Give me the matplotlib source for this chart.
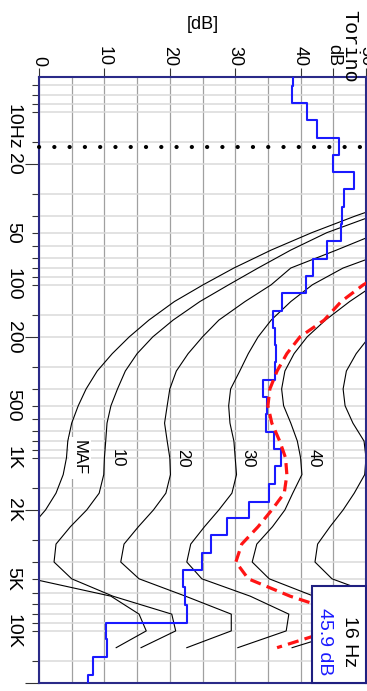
import numpy as np
import matplotlib
matplotlib.use("Agg")
import matplotlib.pyplot as plt
from matplotlib import transforms
from matplotlib.patches import Rectangle

plt.rcParams['font.family'] = ['Liberation Sans', 'DejaVu Sans']
plt.rcParams['lines.scale_dashes'] = False

# measured 1/3 octave spectrum (blue steps)
band_freqs = [6.3, 8, 10, 12.5, 16, 20, 25, 31.5, 40, 50, 63, 80, 100, 125, 160, 200, 250, 315,
              400, 500, 630, 800, 1000, 1250, 1600, 2000, 2500, 3150, 4000, 5000, 6300, 8000,
              10000, 12500, 16000, 20000]
spectrum_db = [38.8, 38.7, 41.0, 42.5, 45.9, 45.0, 48.2, 46.6, 46.4, 46.2, 44.0, 41.9, 40.8, 37.2,
               35.8, 36.1, 36.3, 36.1, 34.2, 34.9, 34.7, 36.0, 37.0, 36.1, 35.2, 32.1, 28.8, 26.3,
               24.9, 22.0, 22.3, 22.6, 10.3, 10.4, 8.3, 7.5]

# equal loudness contours
contour_freqs = [20, 25, 31.5, 40, 50, 63, 80, 100, 125, 160, 200, 250, 315, 400, 500, 630, 800,
                 1000, 1250, 1600, 2000, 2500, 3150, 4000, 5000, 6300, 8000, 10000, 12500]
maf = [74.3, 65.0, 56.3, 48.4, 41.7, 35.5, 29.8, 25.1, 20.7, 16.8, 13.8, 11.2, 8.9, 7.2, 6.0, 5.0,
       4.4, 4.2, 3.7, 2.6, 1.0, -1.2, -3.6, -3.9, -1.1, 11.0, 15.3, 16.4, 11.8]
phon10 = [72, 65, 58, 51, 44, 38.5, 33.5, 29.0, 24.6, 20.5, 17.4, 15.0, 13.2, 12.0, 11.0, 10.4,
          10.2, 10.0, 9.9, 9.2, 7.3, 4.8, 2.6, 2.3, 5.0, 11.3, 20.3, 20.9, 15.6]
phon20 = [78, 72, 66, 60, 52, 45.5, 38.5, 35.5, 31.5, 27.5, 25, 22.8, 21, 20, 19.6, 19.2, 19.6,
          20, 20.1, 19.4, 17.5, 15.2, 13.0, 12.5, 15.3, 22.4, 29.4, 29.4, 22.6]
phon30 = [85, 79, 73, 67, 60, 54, 46.5, 41.8, 38.5, 35.5, 33.5, 32, 30.7, 29.3, 29.0, 29.2, 29.8,
          30, 30.2, 29.5, 27.5, 25.3, 23.2, 22.6, 24.9, 32.3, 38.2, 37.8, 30.4]
phon40 = [92, 86, 80, 74, 68, 62, 56, 51.3, 47.5, 43.8, 41, 39, 37.6, 37.1, 37.4, 38.5, 39.5,
          40, 40.2, 38.8, 37.6, 35.7, 33.3, 32.6, 35.2, 42.0, 47.5, 47.0, 38.7]
phon50 = [99, 93, 87, 81, 76, 70, 64.5, 60, 56.5, 52.8, 50.5, 48.5, 47, 46.5, 46.8, 48, 49.7,
          50, 49.8, 48.2, 46.5, 44.5, 42.6, 42.2, 44.8, 52, 57, 57, 48]
contours = [("MAF", maf), ("10", phon10), ("20", phon20), ("30", phon30), ("40", phon40), ("", phon50)]

# red dashed curve
red_freqs = [80, 100, 125, 160, 200, 250, 315, 400, 500, 630, 800, 1000, 1250, 1600, 2000, 2500,
             3150, 4000, 5000, 6300, 8000, 10000, 12500]
red_db = [54, 49.6, 46.2, 43.6, 39.9, 37.9, 36.4, 35.3, 35.0, 35.6, 36.8, 37.7, 37.9, 37.5, 35.6,
          33.5, 31.0, 30.1, 32.0, 38.4, 46.8, 44.5, 36.4]

cursor_freq = 16

freq_major = [20, 200, 2000, 20000]
freq_minor = [7, 8, 9, 10, 15, 30, 40, 50, 60, 70, 80, 90, 100, 150, 300, 400, 500, 600, 700,
              800, 900, 1000, 1500, 3000, 4000, 5000, 6000, 7000, 8000, 9000, 10000, 15000]
freq_labels = [(20, "20"), (50, "50"), (100, "100"), (200, "200"), (500, "500"), (1000, "1K"),
               (2000, "2K"), (5000, "5K"), (10000, "10K")]
db_ticks = [0, 10, 20, 30, 40, 45, 50]
db_labels = ["0", "10", "20", "30", "40", "dB", "50"]

fig = plt.figure(figsize=(3.67, 6.91), dpi=100)
ax = fig.add_axes([39 / 367, 8 / 691, 327 / 367, 606 / 691])

ax.set_yscale('log')
ax.set_ylim(20000, 6.3)
ax.set_xlim(0, 50)

# contours
for name, vals in contours:
    ax.plot(vals, contour_freqs, color='black', lw=0.8, zorder=2)
    if name:
        v1k = vals[contour_freqs.index(1000)]
        kw = dict(bbox=dict(facecolor='white', edgecolor='none', pad=2.5)) if name == "MAF" else {}
        ax.text(v1k + 2, 1000, name, rotation=-90, ha='center', va='center', fontsize=12,
                zorder=6, **kw)

# blue steps
f = np.array(band_freqs)
edges = np.concatenate([[f[0] * 2 ** (-1 / 6)], np.sqrt(f[:-1] * f[1:]), [f[-1] * 2 ** (1 / 6)]])
step_y = np.column_stack([edges[:-1], edges[1:]]).ravel()
step_x = np.repeat(spectrum_db, 2)
ax.plot(step_x, step_y, color='#1a1aff', lw=1.5, zorder=3)

# red dashed
ax.plot(red_db, red_freqs, color='#ff1414', lw=2.3, dashes=(8, 4.5), zorder=4)

# cursor
ax.plot([0, 50], [cursor_freq, cursor_freq], color='black', lw=3, dashes=(0.1, 10.9),
        dash_capstyle='round', zorder=5, clip_on=False)

# axes styling
ax.xaxis.tick_top()
ax.set_xticks(db_ticks, db_labels)
ax.set_xticks([5, 15, 25, 35], minor=True)
ax.tick_params(axis='x', which='major', length=6.5, width=0.8, color='#333333', pad=1,
               labelsize=13, labelrotation=-90)
ax.tick_params(axis='x', which='minor', length=0)
ax.set_yticks(freq_major)
ax.set_yticks(freq_minor, minor=True)
ax.yaxis.set_major_formatter(plt.NullFormatter())
ax.yaxis.set_minor_formatter(plt.NullFormatter())
ax.tick_params(axis='y', which='major', length=10, width=0.8, color='#333333')
ax.tick_params(axis='y', which='minor', length=5, width=0.8, color='#333333')
ax.set_axisbelow(True)
ax.grid(True, axis='y', which='both', color='#dadada', lw=1.1)
ax.grid(True, axis='x', which='both', color='#a0a0a0', lw=0.9)
for s in ax.spines.values():
    s.set_color('#2a2a88')
    s.set_linewidth(1.5)

ax.xaxis.set_label_position('top')
ax.set_xlabel('[dB]', fontsize=13, labelpad=11)

# frequency labels on the left
blend = transforms.blended_transform_factory(fig.transFigure, ax.transData)
for fr, lab in freq_labels:
    ax.text(13 / 367, fr, lab, transform=blend, rotation=-90, ha='center', va='center',
            fontsize=14, clip_on=False)
ax.text(13 / 367, 10, "10Hz", transform=transforms.offset_copy(blend, fig=fig, y=8, units='dots'),
        rotation=-90, rotation_mode='anchor', ha='left', va='center', fontsize=14, clip_on=False)

fig.text(350 / 367, 1 - 46 / 691, "Torino", rotation=-90, ha='center', va='center',
         family='Liberation Mono', fontsize=14.5)

# readout box
ax.add_patch(Rectangle((0.835, 0.0), 0.165, 0.16, transform=ax.transAxes, facecolor='white',
                       edgecolor='#1f1f80', lw=1.5, zorder=10, clip_on=False))
level = spectrum_db[band_freqs.index(cursor_freq)]
ax.text(0.951, 0.068, f"{cursor_freq} Hz", transform=ax.transAxes, rotation=-90, ha='center',
        va='center', fontsize=14, zorder=11)
ax.text(0.872, 0.068, f"{level:.1f} dB", transform=ax.transAxes, rotation=-90, ha='center',
        va='center', fontsize=14, color='#1a1aff', zorder=11)

fig.savefig('out.png', dpi=100)
